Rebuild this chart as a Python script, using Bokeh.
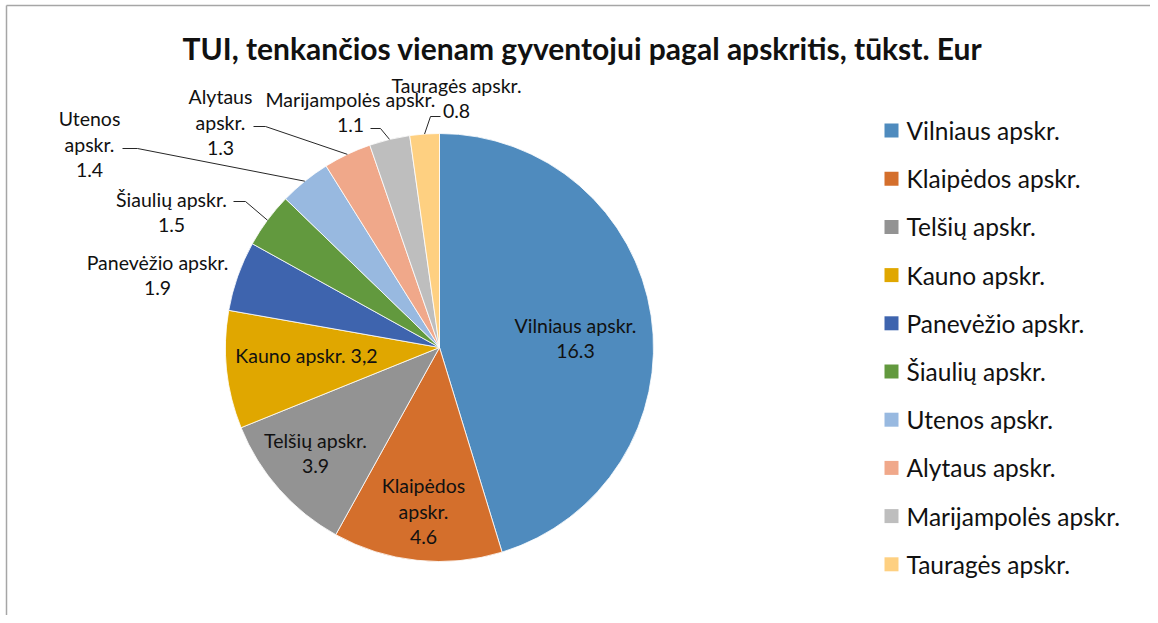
import math
from bokeh.plotting import figure
from bokeh.models import Range1d, ColumnDataSource
from bokeh.core.properties import value
from bokeh.embed import file_html
from bokeh.resources import INLINE

# ---------------- data ----------------
regions = ["Vilniaus apskr.", "Klaipėdos apskr.", "Telšių apskr.", "Kauno apskr.",
           "Panevėžio apskr.", "Šiaulių apskr.", "Utenos apskr.", "Alytaus apskr.",
           "Marijampolės apskr.", "Tauragės apskr."]
values = [16.3, 4.6, 3.9, 3.2, 1.9, 1.5, 1.4, 1.3, 1.1, 0.8]
value_labels = ["16.3", "4.6", "3.9", "3,2", "1.9", "1.5", "1.4", "1.3", "1.1", "0.8"]
label_lines = [
    ["Vilniaus apskr.", "16.3"],
    ["Klaipėdos", "apskr.", "4.6"],
    ["Telšių apskr.", "3.9"],
    ["Kauno apskr. 3,2"],
    ["Panevėžio apskr.", "1.9"],
    ["Šiaulių apskr.", "1.5"],
    ["Utenos", "apskr.", "1.4"],
    ["Alytaus", "apskr.", "1.3"],
    ["Marijampolės apskr.", "1.1"],
    ["Tauragės apskr.", "0.8"],
]
title = "TUI, tenkančios vienam gyventojui pagal apskritis, tūkst. Eur"

# ---------------- styles / layout ----------------
colors = ["#4F8BBE", "#D46F2C", "#939393", "#E0A700", "#3E64AE",
          "#62993E", "#98B9E0", "#F0A88A", "#BEBEBE", "#FED081"]
FONT = "Lato"
TXT = "#111111"
W, H = 1150, 615
CX, CY, R = 439, 347, 214          # pie centre / radius (screen px)
LINE_H = 25.5
# label anchor (centre x, first line y) in screen px
label_pos = [(575, 325), (423, 485), (315, 440), (306, 355), (157, 262),
             (171, 199), (89, 118), (220, 96), (350, 99), (456, 85)]
# leader line: start + elbow (screen px), None = no leader
leaders = [None, None, None, None, None,
           ((233, 201), (245, 201)),
           ((122, 148), (137, 148)),
           ((253, 126), (265, 126)),
           ((370, 128), (380, 128)),
           ((440, 116), (430, 116))]
LEG_X, LEG_Y0, LEG_DY = 891, 130, 48.2

p = figure(width=W, height=H, output_backend="svg", toolbar_location=None,
           x_range=Range1d(0, W), y_range=Range1d(-H, 0),
           min_border=0, outline_line_color=None)
p.axis.visible = False
p.grid.visible = False
p.background_fill_color = "white"
p.border_fill_color = "white"

# chart border (top and left edges)
p.segment(x0=[6, 6], y0=[-5, -5], x1=[W, 6], y1=[-5, -H],
          line_color="#A6A6A6", line_width=1.5)

# ---------------- pie ----------------
total = sum(values)
starts, ends, mids = [], [], []
cum = 0.0
for v in values:
    a0 = math.pi / 2 - 2 * math.pi * cum / total
    cum += v
    a1 = math.pi / 2 - 2 * math.pi * cum / total
    starts.append(a0)
    ends.append(a1)
    mids.append((a0 + a1) / 2)

src = ColumnDataSource(dict(start=starts, end=ends, color=colors, name=regions))
p.wedge(x=CX, y=-CY, radius=R, start_angle="start", end_angle="end",
        direction="clock", fill_color="color", line_color="white", line_width=0.8,
        source=src)

# ---------------- labels ----------------
tx, ty, tt = [], [], []
for lines, (lx, ly) in zip(label_lines, label_pos):
    for k, s in enumerate(lines):
        tx.append(lx)
        ty.append(-(ly + k * LINE_H))
        tt.append(s)
p.text(x=tx, y=ty, text=tt, text_align="center", text_baseline="middle",
       text_font=value(FONT), text_font_size="19.5px", text_color=TXT)

# leader lines
xs, ys = [], []
for ld, m in zip(leaders, mids):
    if ld is None:
        continue
    (x0, y0), (x1, y1) = ld
    ex = CX + R * math.cos(m)
    ey = -CY + R * math.sin(m)
    xs.append([x0, x1, ex])
    ys.append([-y0, -y1, ey])
p.multi_line(xs=xs, ys=ys, line_color="#262626", line_width=1)

# ---------------- legend ----------------
ly = [-(LEG_Y0 + i * LEG_DY) for i in range(len(regions))]
p.scatter(x=[LEG_X] * len(regions), y=ly, marker="square", size=14,
          fill_color=colors, line_color=None)
p.text(x=[LEG_X + 15] * len(regions), y=ly, text=regions, text_align="left",
       text_baseline="middle", text_font=value(FONT), text_font_size="24.5px",
       text_color=TXT)

# ---------------- title ----------------
p.text(x=[582], y=[-47], text=[title], text_align="center", text_baseline="middle",
       text_font=value(FONT), text_font_size="30px", text_font_style="bold",
       text_color=TXT)

open("out.html", "w").write(file_html(p, INLINE))
